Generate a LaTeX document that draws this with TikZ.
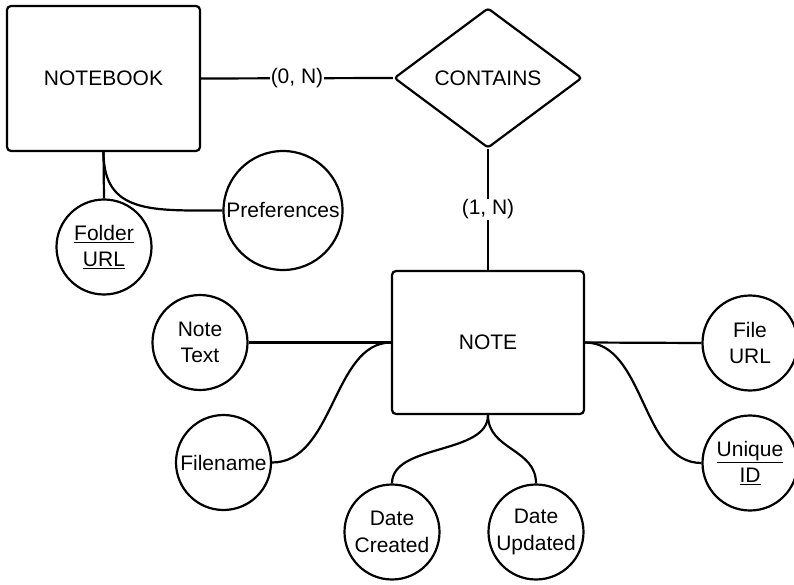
\documentclass[tikz,border=0pt]{standalone}
\usepackage{fontspec}
\setmainfont{Liberation Sans}
\usetikzlibrary{shapes.geometric}
\begin{document}
\begin{tikzpicture}[x=1pt,y=-1pt,
  every node/.style={font=\fontsize{21}{26.5}\selectfont},
  entity/.style={draw,line width=2.2pt,rounded corners=4pt,inner sep=0pt},
  rel/.style={draw,diamond,line width=2.2pt,rounded corners=3pt,minimum width=188pt,minimum height=140pt,inner sep=0pt},
  attr/.style={draw,circle,line width=2.2pt,minimum size=95pt,inner sep=0pt,align=center},
  card/.style={fill=white,inner sep=1pt},
  conn/.style={line width=2.2pt}]
\useasboundingbox (0,0) rectangle (794,585);
\node[entity,minimum width=193pt,minimum height=145pt] (notebook) at (103.5,78.5) {NOTEBOOK};
\node[rel] (contains) at (488,78) {CONTAINS};
\node[entity,minimum width=192pt,minimum height=143pt] (note) at (488,342.5) {NOTE};
\node[attr] (folder) at (104,247) {\underline{Folder}\\\underline{URL}};
\node[attr,minimum size=119pt] (prefs) at (283,210.5) {Preferences};
\node[attr] (notetext) at (200,342.5) {Note\\Text};
\node[attr] (filename) at (223.5,462.5) {Filename};
\node[attr] (created) at (392,532) {Date\\Created};
\node[attr] (updated) at (536,532) {Date\\Updated};
\node[attr] (fileurl) at (750,343) {File\\URL};
\node[attr] (uniqueid) at (750,463) {\underline{Unique}\\\underline{ID}};

\draw[conn] (notebook.east) -- node[card] {(0, N)} (contains.west);
\draw[conn] (contains.south) -- node[card] {(1, N)} (note.north);
\draw[conn] (notebook.south) -- (folder.north);
\draw[conn] (notebook.south) .. controls +(0,62) and +(-70,0) .. (prefs.west);
\draw[conn] (notetext.east) -- (note.west);
\draw[conn] (filename.east) .. controls +(62,0) and +(-58,0) .. (note.west);
\draw[conn] (note.south) .. controls +(0,40) and +(0,-40) .. (created.north);
\draw[conn] (note.south) .. controls +(0,35) and +(0,-35) .. (updated.north);
\draw[conn] (note.east) -- (fileurl.west);
\draw[conn] (note.east) .. controls +(60,0) and +(-60,0) .. (uniqueid.west);
\end{tikzpicture}
\end{document}
